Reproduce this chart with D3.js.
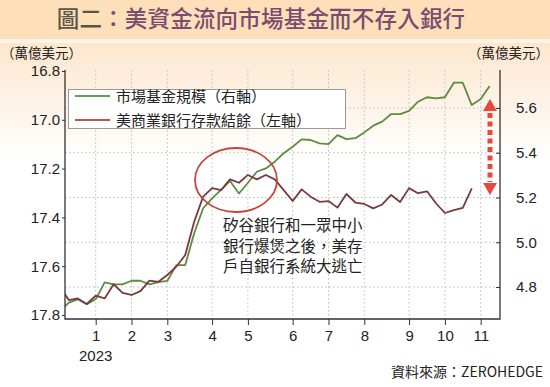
<!DOCTYPE html>
<html>
<head>
<meta charset="utf-8">
<script src="https://cdn.jsdelivr.net/npm/d3@7"></script>
<style>
body { margin: 0; background: #fff; }
text { font-family: "Liberation Sans", Arial, "Noto Sans CJK TC", sans-serif; }
.cjk { font-family: "Noto Sans CJK TC", "Noto Sans CJK SC", sans-serif; }
</style>
</head>
<body>
<script>
var width = 550;
var height = 387;

// weekly index, month ticks sit on the first week of each month
var monthTicks = [4, 8, 12, 17, 21, 26, 30, 34, 39, 43, 47];
var monthLabels = ["1", "2", "3", "4", "5", "6", "7", "8", "9", "10", "11"];
var leftTicks = [16.8, 17.0, 17.2, 17.4, 17.6, 17.8];
var rightTicks = [4.8, 5.0, 5.2, 5.4, 5.6];

// 美商業銀行存款結餘 (左軸, 萬億美元)
var deposits = [17.685, 17.739, 17.732, 17.755, 17.721, 17.732, 17.674, 17.709, 17.718, 17.702,
  17.659, 17.664, 17.636, 17.602, 17.554, 17.418, 17.315, 17.280, 17.288, 17.244,
  17.258, 17.226, 17.244, 17.226, 17.244, 17.288, 17.333, 17.285, 17.315, 17.336,
  17.333, 17.360, 17.304, 17.339, 17.345, 17.363, 17.347, 17.308, 17.337, 17.280,
  17.301, 17.293, 17.342, 17.382, 17.370, 17.361, 17.281];

// 市場基金規模 (右軸, 萬億美元)
var mmf = [4.693, 4.730, 4.745, 4.723, 4.745, 4.821, 4.812, 4.812, 4.828, 4.828,
  4.812, 4.822, 4.827, 4.898, 4.898, 5.040, 5.152, 5.196, 5.234, 5.274,
  5.218, 5.266, 5.315, 5.330, 5.360, 5.398, 5.427, 5.460, 5.457, 5.442,
  5.439, 5.479, 5.461, 5.465, 5.491, 5.521, 5.539, 5.573, 5.573, 5.587,
  5.628, 5.648, 5.643, 5.648, 5.713, 5.713, 5.613, 5.640, 5.698];

var legendNames = ["市場基金規模（右軸）", "美商業銀行存款結餘（左軸）"];
var colors = ["#5b8d3f", "#7a3a3d"];
var noteLines = ["矽谷銀行和一眾中小", "銀行爆煲之後，美存", "戶自銀行系統大逃亡"];

var pLeft = 65, pRight = 500, pTop = 70, pBottom = 319;

var svg = d3.select("body").append("svg")
  .attr("width", width)
  .attr("height", height)

var defs = svg.append("defs");
var grad = defs.append("linearGradient").attr("id", "bg")
  .attr("x1", 0).attr("y1", 0).attr("x2", 0).attr("y2", 1);
grad.append("stop").attr("offset", "0%").attr("stop-color", "#fde6cc");
grad.append("stop").attr("offset", "100%").attr("stop-color", "#ffffff");

defs.append("clipPath").attr("id", "plot")
  .append("rect").attr("x", pLeft).attr("y", pTop - 30)
  .attr("width", pRight - pLeft).attr("height", pBottom - pTop + 30);

svg.append("rect").attr("width", width).attr("height", height).attr("fill", "#fff");
svg.append("rect").attr("x", 0).attr("y", 40).attr("width", width).attr("height", 120)
  .attr("fill", "url(#bg)");

// title band
svg.append("rect").attr("x", 0).attr("y", 0).attr("width", width).attr("height", 39)
  .attr("fill", "#fde0b9");
svg.append("rect").attr("x", 0).attr("y", 39).attr("width", width).attr("height", 4)
  .attr("fill", "#fff4e8");

var title = svg.append("text").attr("class", "cjk")
  .attr("x", 261).attr("y", 27)
  .attr("text-anchor", "middle")
  .attr("font-size", 22.5)
  .attr("font-weight", 500)
  .attr("letter-spacing", 0.2);
title.append("tspan").attr("fill", "#59544c").text("圖二");
title.append("tspan").attr("fill", "#7b4b70").text("：美資金流向市場基金而不存入銀行");

var x = d3.scaleLinear().domain([4, 47]).range([95.7, 480.7]);
var yL = d3.scaleLinear().domain([16.8, 17.8]).range([71, 315]);
var yR = d3.scaleLinear().domain([4.8, 5.6]).range([287, 108]);

// grid
var grid = svg.append("g")
  .attr("stroke", "#bdbdbd")
  .attr("stroke-width", 1)
  .attr("stroke-dasharray", "1.5,2.5");
grid.selectAll(".gx").data(monthTicks).join("line")
  .attr("x1", d => x(d)).attr("x2", d => x(d))
  .attr("y1", pTop).attr("y2", pBottom);
grid.selectAll(".gy").data(rightTicks).join("line")
  .attr("x1", pLeft).attr("x2", pRight)
  .attr("y1", d => yR(d)).attr("y2", d => yR(d));

// lines
var plot = svg.append("g").attr("clip-path", "url(#plot)");
var lineL = d3.line().x((d, i) => x(i)).y(d => yL(d));
var lineR = d3.line().x((d, i) => x(i)).y(d => yR(d));

plot.append("path").datum(mmf)
  .attr("d", lineR)
  .attr("fill", "none")
  .attr("stroke", colors[0])
  .attr("stroke-width", 1.8)
  .attr("stroke-linejoin", "round");

plot.append("path").datum(deposits)
  .attr("d", lineL)
  .attr("fill", "none")
  .attr("stroke", colors[1])
  .attr("stroke-width", 1.8)
  .attr("stroke-linejoin", "round");

// axes
var axL = svg.append("g").attr("transform", "translate(" + pLeft + ",0)")
  .call(d3.axisLeft(yL).tickValues(leftTicks).tickSize(3).tickPadding(2).tickFormat(d3.format(".1f")));
var axR = svg.append("g").attr("transform", "translate(" + pRight + ",0)")
  .call(d3.axisRight(yR).tickValues(rightTicks).tickSizeInner(-4).tickSizeOuter(0).tickPadding(16).tickFormat(d3.format(".1f")));
var axB = svg.append("g").attr("transform", "translate(0," + pBottom + ")")
  .call(d3.axisBottom(x).tickValues(monthTicks).tickSize(6).tickPadding(5).tickFormat((d, i) => monthLabels[i]));

[axL, axR, axB].forEach(function(a) {
  a.select(".domain").remove();
  a.selectAll("text").attr("font-size", 15).attr("fill", "#222");
  a.selectAll("line").attr("stroke", "#333");
});

svg.append("path")
  .attr("d", "M" + pLeft + "," + pTop + "V" + pBottom + "H" + pRight + "V" + pTop)
  .attr("fill", "none")
  .attr("stroke", "#333")
  .attr("stroke-width", 1.3);

svg.append("text").attr("x", x(4)).attr("y", 361)
  .attr("text-anchor", "middle").attr("font-size", 15).attr("fill", "#222")
  .text("2023");

// unit labels
svg.append("text").attr("class", "cjk").attr("x", 1).attr("y", 58)
  .attr("font-size", 13.5).attr("fill", "#222").text("（萬億美元）");
svg.append("text").attr("class", "cjk").attr("x", 549).attr("y", 58)
  .attr("text-anchor", "end")
  .attr("font-size", 13.5).attr("fill", "#222").text("（萬億美元）");

// legend
var lg = svg.append("g");
lg.append("rect").attr("x", 68.5).attr("y", 89.5).attr("width", 277).attr("height", 39)
  .attr("fill", "#fff").attr("stroke", "#999").attr("stroke-width", 1);
lg.selectAll(".it").data(legendNames).join("g")
  .attr("transform", (d, i) => "translate(0," + (96 + i * 24) + ")")
  .each(function(d, i) {
    var g = d3.select(this);
    g.append("line").attr("x1", 75).attr("x2", 110).attr("y1", 0).attr("y2", 0)
      .attr("stroke", i == 0 ? "#5fa052" : "#b5554d").attr("stroke-width", 1.8);
    g.append("text").attr("class", "cjk").attr("x", 116).attr("y", 5.5)
      .attr("font-size", 15).attr("fill", "#222").text(d);
  });

// annotation ellipse and text
svg.append("ellipse")
  .attr("cx", 236).attr("cy", 180).attr("rx", 41).attr("ry", 32)
  .attr("fill", "none").attr("stroke", "#c4463b").attr("stroke-width", 1.8);

svg.append("g").selectAll("text").data(noteLines).join("text")
  .attr("class", "cjk")
  .attr("x", 223).attr("y", (d, i) => 231 + i * 20.5)
  .attr("font-size", 15.5).attr("fill", "#222")
  .text(d => d);

// double arrow
var ar = svg.append("g").attr("fill", "#e8473d");
ar.append("path").attr("d", "M490,99 L497,111 L483,111 Z");
ar.append("path").attr("d", "M490,195 L497,183 L483,183 Z");
ar.append("line").attr("x1", 490).attr("x2", 490).attr("y1", 113).attr("y2", 182)
  .attr("stroke", "#e8473d").attr("stroke-width", 5).attr("stroke-dasharray", "5,3.5");

// source
svg.append("text").attr("class", "cjk").attr("x", 543).attr("y", 377)
  .attr("text-anchor", "end").attr("font-size", 14).attr("fill", "#222")
  .text("資料來源：ZEROHEDGE");
</script>
</body>
</html>
